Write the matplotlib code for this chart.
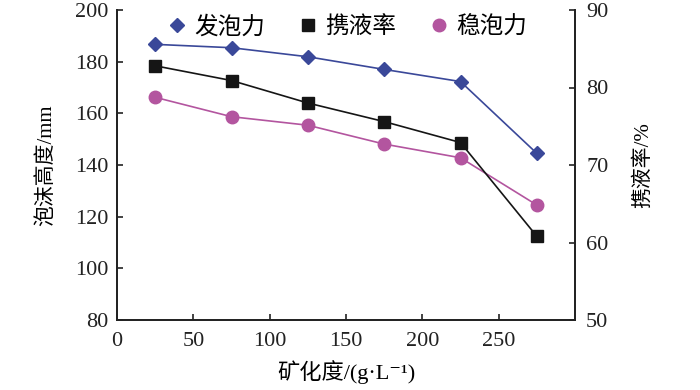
import matplotlib
matplotlib.use("Agg")
import matplotlib.pyplot as plt
from matplotlib.lines import Line2D

plt.rcParams['font.family'] = ['Liberation Serif', 'Noto Sans CJK SC', 'DejaVu Serif']

x = [25, 75, 125, 175, 225, 275]
foam_power = [186.7, 185.4, 181.9, 177.0, 172.3, 144.5]      # 发泡力 (left, mm)
liquid_rate = [82.8, 80.9, 78.0, 75.6, 72.9, 60.8]           # 携液率 (right, %)
foam_stability = [166.2, 158.7, 155.4, 148.1, 142.8, 124.5]  # 稳泡力 (left, mm)

x_ticks = [0, 50, 100, 150, 200, 250]
left_ticks = [80, 100, 120, 140, 160, 180, 200]
right_ticks = [50, 60, 70, 80, 90]

blue = '#3a4899'
black = '#151515'
pink = '#b3559f'

fig = plt.figure(figsize=(7, 3.9), dpi=100)
ax = fig.add_axes([117/700, 1-320/390, (575-117)/700, (320-10)/390])
ax2 = ax.twinx()

ax.plot(x, foam_power, color=blue, lw=1.2, marker='D', ms=7.5, label='发泡力')
ax.plot(x, foam_stability, color=pink, lw=1.2, marker='o', ms=9, label='稳泡力')
ax2.plot(x, liquid_rate, color=black, lw=1.2, marker='s', ms=8.5, label='携液率')

ax.set_xlim(0, 300)
ax.set_ylim(80, 200)
ax2.set_ylim(50, 90)
ax.set_xticks(x_ticks)
ax.set_yticks(left_ticks)
ax2.set_yticks(right_ticks)

for a in (ax, ax2):
    a.tick_params(direction='in', length=4, width=1.2, labelsize=16, colors='#222222')
    for s in a.spines.values():
        s.set_linewidth(1.3)
        s.set_color('#222222')
ax.spines['top'].set_visible(False)
ax2.spines['top'].set_visible(False)
ax.tick_params(axis='y', pad=6)
ax2.tick_params(axis='y', pad=8)
ax.tick_params(axis='x', pad=9)

ax.set_ylabel('泡沫高度/mm', fontsize=15, labelpad=14)
ax2.set_ylabel('携液率/%', fontsize=15, rotation=90, labelpad=18)
ax.set_xlabel('矿化度/(g·L⁻¹)', fontsize=16, labelpad=6)

handles = [
    Line2D([], [], color=blue, marker='D', ls='none', ms=7.5),
    Line2D([], [], color=black, marker='s', ls='none', ms=8.5),
    Line2D([], [], color=pink, marker='o', ls='none', ms=9),
]
labels = ['发泡力', '携液率', '稳泡力']
ax.legend(handles, labels, loc='upper center', bbox_to_anchor=(0.5, 1.05), ncol=3,
          frameon=False, fontsize=17, handletextpad=0.25, columnspacing=1.3,
          handlelength=1.0)

fig.savefig('out.png', dpi=100)
